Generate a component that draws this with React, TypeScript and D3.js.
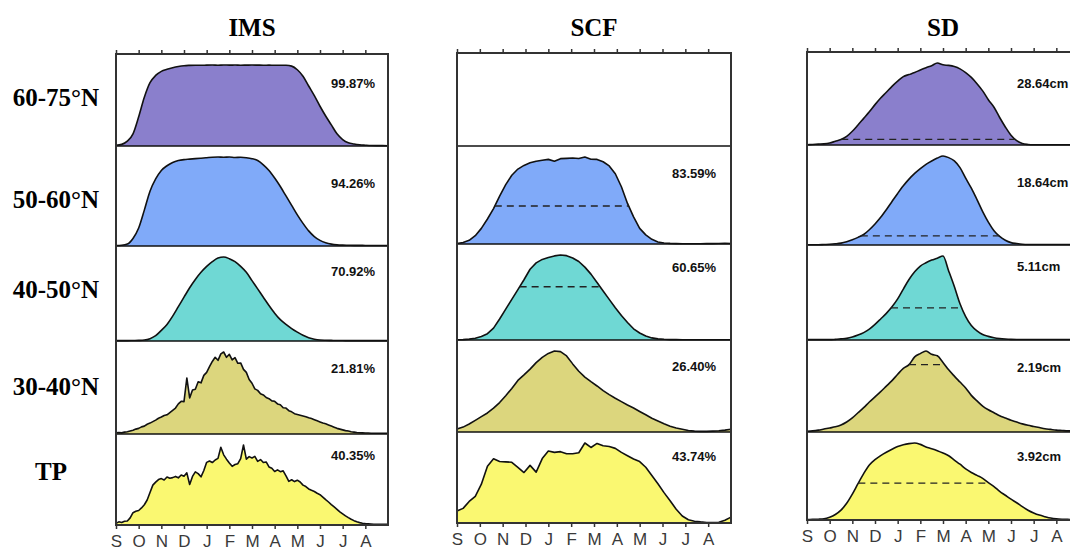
import { useRef, useEffect } from 'react';
import * as d3 from 'd3';

const W = 1070, H = 552;
const PEAK_PAD = 11; // px between row top and the row's maximum

const MONTHS = ['S', 'O', 'N', 'D', 'J', 'F', 'M', 'A', 'M', 'J', 'J', 'A'];
const REGIONS = ['60-75°N', '50-60°N', '40-50°N', '30-40°N', 'TP'];
const ROW_COLORS = ['#8a7fcc', '#80aaf9', '#6fd8d4', '#dcd67d', '#faf871'];

// ---- IMS snow cover (%), Sep 1 -> Aug 31 ----
const IMS_6075 = [1, 2, 6, 15, 36, 60, 78, 87, 92, 94.5, 96.5, 98, 99,
  99.4, 99.6, 99.5, 99.7, 99.8, 99.6, 99.87, 99.7, 99.8, 99.6, 99.7, 99.8, 99.7, 99.6, 99.7, 99.5, 99.6, 99.5,
  98.5, 94, 86, 74, 62, 49, 37, 26, 15, 8, 4, 2.5, 1.5, 1, 0.6, 0.5, 0.5, 0.4];
const IMS_5060 = [0.5, 0.8, 2, 8, 19, 38, 58, 71, 80, 85, 88.5, 90.5, 91.5,
  92, 92.5, 93, 93.5, 94, 94.2, 94, 94.26, 93.8, 94, 93.5, 92.5,
  90.5, 86, 80, 72, 63, 53, 43, 33, 24, 16, 10, 6, 3.5, 2, 1.2, 0.9, 0.8, 0.7, 0.7, 0.6, 0.6, 0.5, 0.5, 0.5];
const IMS_4050 = [0.3, 0.3, 0.3, 0.4, 0.5,
  0.8, 2, 4.5, 9, 14, 21, 29, 37,
  45, 52, 58, 63, 67, 70, 70.92, 69.5,
  67, 63, 58, 51, 44, 37, 30, 23.5,
  18, 14, 10.5, 7.5, 4.8, 2.8, 1.5, 0.8,
  0.6, 0.5, 0.4, 0.4, 0.3, 0.3, 0.3, 0.3, 0.3, 0.3, 0.3, 0.3];
const IMS_3040 = [
  0.3, 0.4, 0.3, 0.5, 0.6, 0.8, 1.0, 1.3,
  1.5, 1.9, 2.1, 2.6, 2.9, 3.3, 3.7, 4.2,
  4.5, 4.9, 5.1, 5.7, 6.3, 6.9, 8.0, 8.7,
  8.6, 14.9, 9.6, 11.7, 11.9, 13.9, 13.6, 15.6,
  16.4, 17.9, 19.3, 20.4, 19.6, 21.3, 21.81, 20.4,
  21.2, 19.7, 20.3, 18.8, 18.9, 17.2, 16.4, 14.5,
  13.5, 12.0, 11.6, 10.7, 10.4, 9.7, 9.4, 8.8,
  8.7, 8.0, 7.8, 7.0, 6.9, 6.2, 5.9, 5.4,
  5.2, 5.0, 4.8, 4.6, 4.3, 4.1, 3.8, 3.5,
  3.2, 2.9, 2.7, 2.4, 2.1, 1.8, 1.5, 1.3,
  1.1, 0.9, 0.8, 0.6, 0.5, 0.4, 0.35, 0.3,
  0.25, 0.25, 0.2, 0.2, 0.2, 0.2, 0.2, 0.2,
  0.2];
const IMS_TP = [
  0.8, 1.6, 1.3, 1.9, 2.0, 3.6, 6.2, 6.9,
  7.3, 8.6, 10.2, 12.6, 16.4, 20.1, 21.6, 22.9,
  23.4, 22.7, 24.2, 23.6, 23.9, 24.5, 23.8, 25.2,
  24.6, 26.3, 20.4, 24.5, 26.8, 25.9, 24.3, 27.5,
  31.6, 32.3, 31.5, 32.8, 33.6, 39.2, 35.4, 33.2,
  31.3, 29.6, 30.5, 30.9, 33.5, 40.35, 33.2, 34.5,
  33.8, 34.6, 32.1, 33.0, 31.5, 31.8, 29.3, 28.6,
  27.0, 27.8, 26.9, 27.3, 24.8, 22.0, 22.8, 21.9,
  22.6, 21.7, 20.1, 19.4, 18.2, 17.5, 16.9, 16.0,
  15.3, 14.1, 12.8, 11.6, 10.3, 9.1, 7.9, 6.6,
  5.6, 4.6, 3.7, 2.9, 2.2, 1.6, 1.2, 0.9,
  0.7, 0.6, 0.5, 0.4, 0.4, 0.3, 0.3, 0.3,
  0.3];

// ---- SCF (%), 8-day composites ----
const SCF_5060 = [0.5, 1.5, 3.5, 8, 15, 24, 34, 46, 57, 66,
  72, 75.5, 78, 79.5, 80.5, 81.3, 79.5, 82, 82.3, 82.6,
  82.2, 83.59, 81.5, 81.3, 79, 75, 67.5, 55, 39, 26,
  15, 8.8, 4.5, 2, 1, 0.6, 0.4, 0.3, 0.3, 0.3,
  0.3, 0.4, 0.4, 0.5, 0.6, 0.5];
const SCF_4050 = [0.2, 0.3, 0.6, 1.2, 2.5, 4.5, 8.5, 15, 22, 29,
  36, 43, 50.5, 55, 57.5, 58.8, 60, 60.65, 60.2, 58.5,
  56, 52, 47, 41, 35, 29, 23, 17.5, 12.5, 8,
  5, 2.8, 1.5, 0.8, 0.5, 0.3, 0.3, 0.2, 0.2, 0.2,
  0.2, 0.2, 0.2, 0.2, 0.2, 0.2];
const SCF_3040 = [1.0, 1.6, 2.6, 3.8, 5.0, 6.2, 7.8, 9.6, 11.8, 14.2,
  16.8, 18.6, 20.5, 22.6, 24.3, 25.6, 26.4, 26.2, 24.8, 22.2,
  19.8, 17.9, 16.4, 15.0, 13.5, 12.2, 11.0, 9.9, 8.8, 7.8,
  6.7, 5.6, 4.5, 3.6, 2.7, 1.9, 1.3, 0.9, 0.5, 0.3,
  0.2, 0.2, 0.3, 0.4, 0.6, 0.9];
const SCF_TP = [6.6, 8.0, 11.8, 14.6, 21.2, 31.0, 35.1, 33.6, 33.4, 33.2,
  30.4, 27.6, 31.5, 27.8, 35.2, 39.4, 38.6, 39.0, 37.9, 37.9,
  38.4, 43.74, 41.3, 43.5, 42.2, 41.8, 40.8, 38.6, 36.8, 35.0,
  33.6, 30.5, 26.0, 21.5, 16.6, 12.2, 7.5, 3.8, 1.8, 1.0,
  0.6, 0.3, 0.3, 0.4, 1.5, 3.2];

// ---- SD (cm) ----
const SD_6075 = [0.1, 0.2, 0.3, 0.4, 0.7,
  1.3, 1.9, 3.0, 4.8, 7.0, 9.3, 11.6, 14.1,
  16.4, 18.4, 20.5, 22.3, 23.9, 24.6, 25.3, 26.2,
  27.0, 27.7, 28.64, 28.0, 27.8, 27.4, 26.6, 25.3,
  23.6, 21.4, 18.9, 15.8, 13.2, 9.6, 6.3, 3.4,
  1.5, 0.5, 0.2, 0.1, 0.1, 0.1, 0.1, 0.1, 0.1, 0.1, 0.1, 0.1];
const SD_5060 = [0.05, 0.05, 0.05, 0.1, 0.15,
  0.25, 0.4, 0.7, 1.1, 1.6, 2.2, 3.2, 4.4,
  5.8, 7.4, 9.1, 10.8, 12.4, 13.8, 15.0, 16.0,
  16.9, 17.6, 18.2, 18.64, 18.3, 17.6, 16.2, 14.0,
  11.9, 9.5, 7.0, 4.8, 3.0, 1.8, 1.0, 0.5,
  0.3, 0.15, 0.1, 0.1, 0.1, 0.1, 0.1, 0.1, 0.1, 0.1, 0.1, 0.1];
const SD_4050 = [0.02, 0.02, 0.02, 0.02, 0.02,
  0.04, 0.07, 0.1, 0.18, 0.3, 0.45, 0.66, 0.95,
  1.28, 1.62, 2.02, 2.5, 3.1, 3.68, 4.15, 4.5,
  4.7, 4.86, 4.98, 5.11, 4.2, 3.25, 2.2, 1.42,
  0.88, 0.55, 0.33, 0.22, 0.14, 0.09, 0.06, 0.04,
  0.03, 0.03, 0.03, 0.03, 0.03, 0.03, 0.03, 0.03, 0.03, 0.03, 0.03, 0.03];
const SD_3040 = [0.02, 0.03, 0.05, 0.08, 0.11,
  0.14, 0.19, 0.27, 0.38, 0.52, 0.66, 0.81, 0.95,
  1.09, 1.24, 1.39, 1.56, 1.72, 1.82, 2.03, 2.12,
  2.19, 2.1, 2.06, 1.88, 1.68, 1.51, 1.35, 1.19,
  0.99, 0.84, 0.7, 0.6, 0.52, 0.44, 0.38, 0.32,
  0.27, 0.22, 0.18, 0.15, 0.12, 0.09, 0.07, 0.05, 0.04, 0.03, 0.03, 0.02];
const SD_TP = [0.02, 0.03, 0.04, 0.06, 0.14,
  0.28, 0.5, 0.85, 1.32, 1.85, 2.36, 2.8, 3.07,
  3.28, 3.45, 3.6, 3.74, 3.83, 3.89, 3.92, 3.85,
  3.72, 3.63, 3.53, 3.41, 3.27, 3.05, 2.84, 2.6,
  2.42, 2.27, 2.12, 1.9, 1.7, 1.46, 1.26, 1.06,
  0.88, 0.68, 0.5, 0.36, 0.25, 0.17, 0.1, 0.06, 0.04, 0.03, 0.02, 0.02];

const IMS_PEAK = ['99.87%', '94.26%', '70.92%', '21.81%', '40.35%'];
const SCF_PEAK = [null, '83.59%', '60.65%', '26.40%', '43.74%'];
const SD_PEAK = ['28.64cm', '18.64cm', '5.11cm', '2.19cm', '3.92cm'];
// dashed reference levels
const SCF_DASH = [null, 36.5, 38, null, null];
const SD_DASH = [1.95, 1.9, 1.95, 1.82, 1.88];

// layout (pixels)
const PANELS = [
  { title: 'IMS', x0: 116, x1: 388, rows: [54, 146, 246, 341, 434, 525], labelX: 331,
    labelY: [88, 188, 276, 373, 460], series: [IMS_6075, IMS_5060, IMS_4050, IMS_3040, IMS_TP],
    peaks: IMS_PEAK, dash: [null, null, null, null, null], linear: false },
  { title: 'SCF', x0: 457, x1: 731, rows: [53, 146, 244, 340, 432, 523], labelX: 672,
    labelY: [88, 178, 272, 371, 461], series: [null, SCF_5060, SCF_4050, SCF_3040, SCF_TP],
    peaks: SCF_PEAK, dash: SCF_DASH, linear: true },
  { title: 'SD', x0: 807, x1: 1079, rows: [52, 145, 245, 340, 432, 520], labelX: 1017,
    labelY: [88, 187, 271, 372, 461], series: [SD_6075, SD_5060, SD_4050, SD_3040, SD_TP],
    peaks: SD_PEAK, dash: SD_DASH, linear: false },
];
const REGION_Y = [106, 208, 298, 395, 480];
const REGION_X = [56, 56, 56, 56, 51];

const SERIF = '"Liberation Serif", "Times New Roman", serif';
const SANS = '"Liberation Sans", Arial, sans-serif';

export default function App() {
  const ref = useRef<SVGSVGElement>(null);

  useEffect(() => {
    const svg = d3.select(ref.current);
    svg.selectAll('*').remove();
    svg.append('rect').attr('width', W).attr('height', H).attr('fill', '#fff');

    PANELS.forEach(p => {
      const x = d3.scaleLinear().domain([0, 12]).range([p.x0, p.x1]);
      const top = p.rows[0], bottom = p.rows[5];
      const g = svg.append('g');

      p.series.forEach((s, r) => {
        if (!s) return;
        const yb = p.rows[r + 1], yt = p.rows[r];
        const y = d3.scaleLinear().domain([0, d3.max(s)!]).range([yb, yt + PEAK_PAD]);
        const xi = (i: number) => x((i * 12) / (s.length - 1));
        const curve = p.linear || s.length > 60 ? d3.curveLinear : d3.curveMonotoneX;
        const area = d3.area<number>().x((_, i) => xi(i)).y0(yb).y1(v => y(v)).curve(curve);
        const line = d3.line<number>().x((_, i) => xi(i)).y(v => y(v)).curve(curve);
        g.append('path').attr('d', area(s) ?? '').attr('fill', ROW_COLORS[r]);
        g.append('path').attr('d', line(s) ?? '').attr('fill', 'none').attr('stroke', '#111')
          .attr('stroke-width', 1.6).attr('stroke-linejoin', 'round');

        // dashed level between first up-crossing and last down-crossing
        const lvl = p.dash[r];
        if (lvl != null) {
          let a: number | null = null, b: number | null = null;
          for (let i = 1; i < s.length; i++) {
            if (a === null && s[i - 1] < lvl && s[i] >= lvl) a = i - 1 + (lvl - s[i - 1]) / (s[i] - s[i - 1]);
            if (s[i - 1] >= lvl && s[i] < lvl) b = i - 1 + (s[i - 1] - lvl) / (s[i - 1] - s[i]);
          }
          if (a !== null && b !== null) {
            g.append('line').attr('x1', xi(a)).attr('x2', xi(b)).attr('y1', y(lvl)).attr('y2', y(lvl))
              .attr('stroke', '#222').attr('stroke-width', 1.3).attr('stroke-dasharray', '7 5');
          }
        }
      });

      // row separators
      g.selectAll('line.sep').data(p.rows.slice(1, 5)).join('line').attr('class', 'sep')
        .attr('x1', p.x0).attr('x2', p.x1).attr('y1', d => d).attr('y2', d => d)
        .attr('stroke', '#111').attr('stroke-width', 1.3);

      // frame
      g.append('rect').attr('x', p.x0).attr('y', top).attr('width', p.x1 - p.x0).attr('height', bottom - top)
        .attr('fill', 'none').attr('stroke', '#333').attr('stroke-width', 2);

      // month ticks
      const topAxis = g.append('g').attr('transform', `translate(0,${top})`)
        .call(d3.axisTop(x).tickValues(d3.range(12)).tickSize(4).tickFormat(() => ''));
      topAxis.select('.domain').remove();
      topAxis.selectAll('line').attr('stroke', '#333').attr('stroke-width', 1.5);

      const botAxis = g.append('g').attr('transform', `translate(0,${bottom})`)
        .call(d3.axisBottom(x).tickValues(d3.range(12)).tickSize(4).tickPadding(6)
          .tickFormat(d => MONTHS[+d]));
      botAxis.select('.domain').remove();
      botAxis.selectAll('line').attr('stroke', '#333').attr('stroke-width', 1.5);
      botAxis.selectAll('text').attr('font-size', 17).attr('font-family', SANS).attr('fill', '#3a3a3a');

      // peak labels
      p.peaks.forEach((t, r) => {
        if (!t) return;
        g.append('text').attr('x', p.labelX).attr('y', p.labelY[r]).attr('font-family', SANS)
          .attr('font-size', 13).attr('font-weight', 700).attr('fill', '#111').text(t);
      });

      // title
      svg.append('text').attr('x', (p.x0 + p.x1) / 2).attr('y', 36).attr('text-anchor', 'middle')
        .attr('font-family', SERIF).attr('font-weight', 700).attr('font-size', 25).attr('fill', '#000')
        .text(p.title);
    });

    // region labels
    svg.append('g').selectAll('text').data(REGIONS).join('text')
      .attr('x', (_, i) => REGION_X[i]).attr('y', (_, i) => REGION_Y[i]).attr('text-anchor', 'middle')
      .attr('font-family', SERIF).attr('font-weight', 700).attr('font-size', 25).attr('fill', '#000')
      .text(d => d);
  }, []);

  return (
    <div style={{ position: 'absolute', left: 0, top: 0 }}>
      <svg ref={ref} width={W} height={H} style={{ display: 'block' }} />
    </div>
  );
}
